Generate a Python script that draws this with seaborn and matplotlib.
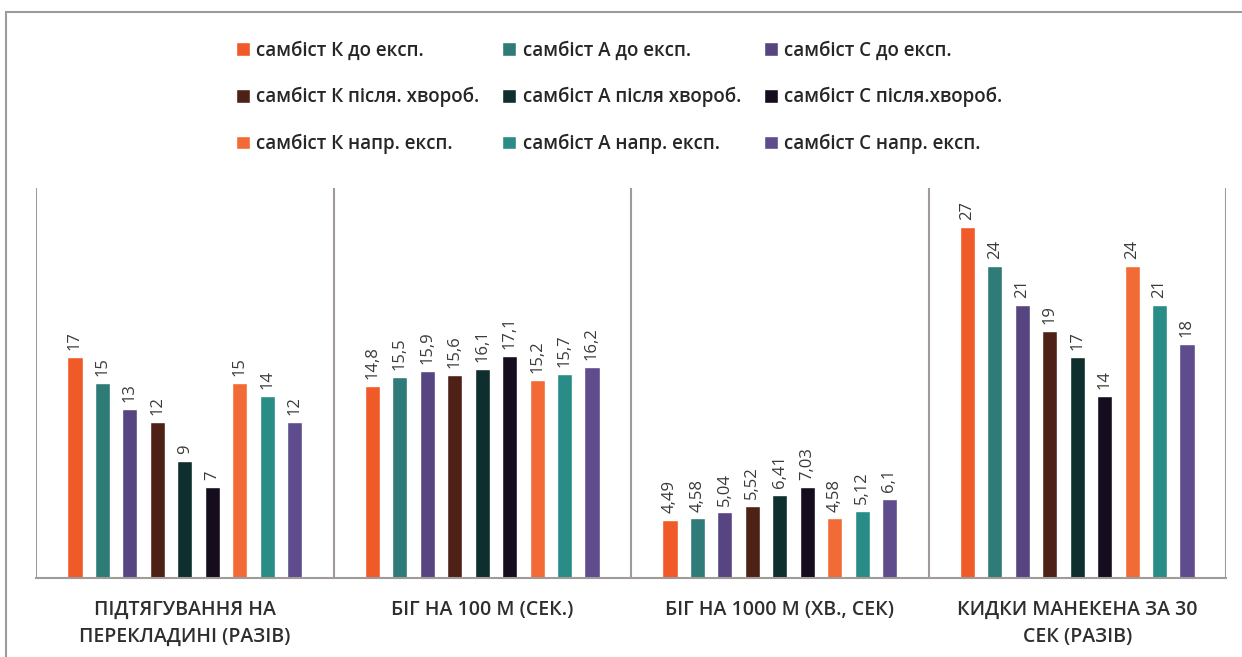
import matplotlib
matplotlib.use("Agg")
import matplotlib.pyplot as plt
from matplotlib.patches import Rectangle
import seaborn as sns
import pandas as pd

# categories (x groups)
categories = [
    "ПІДТЯГУВАННЯ НА\nПЕРЕКЛАДИНІ (РАЗІВ)",
    "БІГ НА 100 М (СЕК.)",
    "БІГ НА 1000 М (ХВ., СЕК)",
    "КИДКИ МАНЕКЕНА ЗА 30\nСЕК (РАЗІВ)",
]

# series names (legend order, row by row)
series = [
    "самбіст К до експ.", "самбіст А до експ.", "самбіст С до експ.",
    "самбіст К після. хвороб.", "самбіст А після хвороб.", "самбіст С після.хвороб.",
    "самбіст К напр. експ.", "самбіст А напр. експ.", "самбіст С напр. експ.",
]

colors = [
    "#F05A28", "#2E7B78", "#574582",
    "#4E2117", "#0F2E2E", "#150C1E",
    "#F26A35", "#2A8C86", "#5F4C8C",
]

# values per category, one entry per series
pullups = [17, 15, 13, 12, 9, 7, 15, 14, 12]
run_100 = [14.8, 15.5, 15.9, 15.6, 16.1, 17.1, 15.2, 15.7, 16.2]
run_1000 = [4.49, 4.58, 5.04, 5.52, 6.41, 7.03, 4.58, 5.12, 6.1]
throws = [27, 24, 21, 19, 17, 14, 24, 21, 18]

values = [pullups, run_100, run_1000, throws]

rows = []
for cat, vals in zip(categories, values):
    for s, v in zip(series, vals):
        rows.append({"category": cat, "series": s, "value": v})
df = pd.DataFrame(rows)

sns.set_style("white")
plt.rcParams["font.family"] = ["Open Sans", "DejaVu Sans"]

fig = plt.figure(figsize=(12.42, 6.57), dpi=100)
ax = fig.add_axes([36 / 1242, 1 - 578 / 657, (1226 - 36) / 1242, 390 / 657])

sns.barplot(
    data=df, x="category", y="value", hue="series",
    order=categories, hue_order=series, palette=colors,
    width=0.83, gap=0.45, saturation=1, errorbar=None, ax=ax,
)

# value labels above bars
for container, s in zip(ax.containers, series):
    i = series.index(s)
    labels = [f"{vals[i]:g}".replace(".", ",") for vals in values]
    ax.bar_label(container, labels=labels, rotation=90, padding=5,
                 fontsize=12, color="#3a3a3a")

ax.set_ylim(0, 30)
ax.set_xlim(-0.5, len(categories) - 0.5)
ax.set_yticks([])
ax.set_xlabel("")
ax.set_ylabel("")
for sp in ["top", "left", "right"]:
    ax.spines[sp].set_visible(False)
ax.spines["bottom"].set_color("#a09a98")
ax.spines["bottom"].set_linewidth(1.5)

# group separators
for x in [k - 0.5 for k in range(len(categories) + 1)]:
    ax.axvline(x, color="#a09a98", linewidth=1.5, ymin=0, ymax=1)

ax.tick_params(axis="x", length=0, pad=16)
ax.set_xticks(range(len(categories)))
ax.set_xticklabels(categories, fontsize=14, color="#2e2e2e",
                   fontweight="semibold", linespacing=1.45)

# legend, 3x3 filled row by row
handles, labels = ax.get_legend_handles_labels()
ax.legend_.remove()
order = [0, 3, 6, 1, 4, 7, 2, 5, 8]
fig.legend(
    [handles[i] for i in order], [labels[i] for i in order],
    ncol=3, loc="upper left", bbox_to_anchor=(219 / 1242, 1 - 24 / 657),
    frameon=False, handlelength=0.75, handleheight=0.75,
    handletextpad=0.35, columnspacing=1.2, labelspacing=1.4,
    prop={"weight": "semibold", "size": 13.5},
)

# outer frame
fig.patches.append(Rectangle((6 / 1242, -0.05), 1.1, 1.05 - 12 / 657,
                             transform=fig.transFigure, fill=False,
                             edgecolor="#a09a98", linewidth=1.5))

fig.savefig("out.png", dpi=100)
